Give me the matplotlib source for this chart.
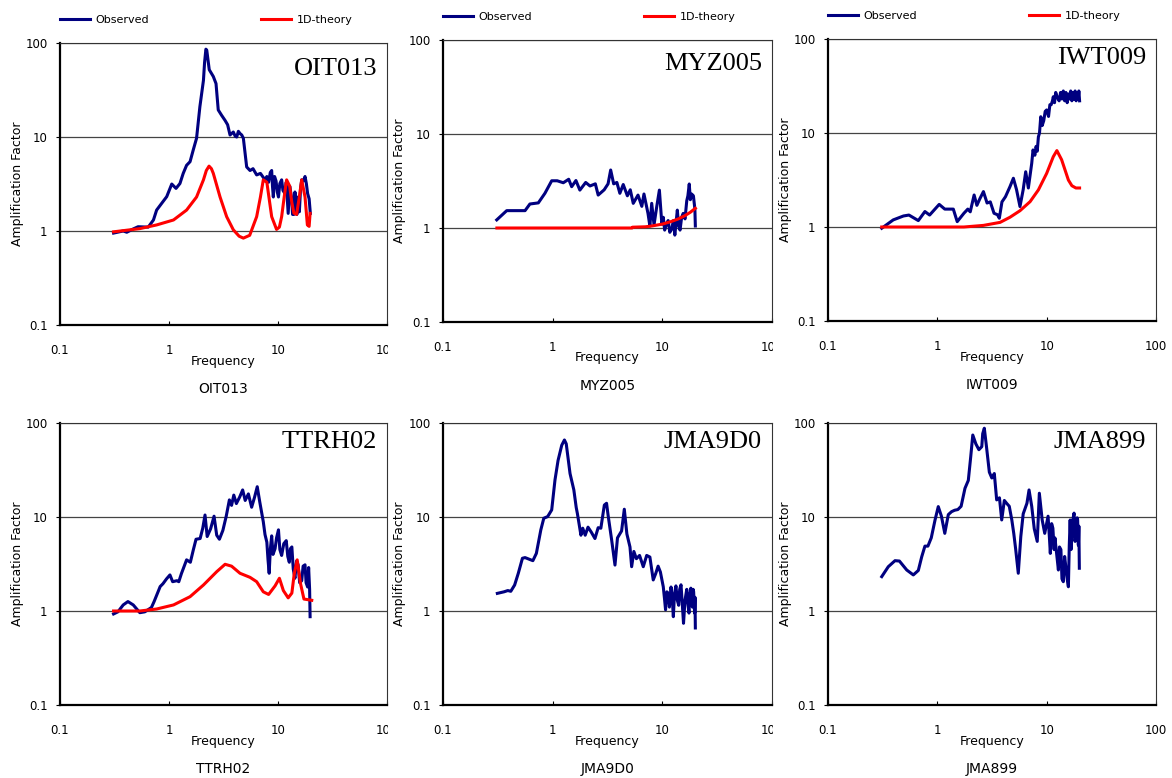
import matplotlib
matplotlib.use("Agg")
import matplotlib.pyplot as plt
from matplotlib.transforms import Bbox, TransformedBbox

plt.rcParams['font.family'] = ['DejaVu Sans']

W, H = 1172, 778

# (frequency [Hz], amplification) pairs per site
oit013_obs = [(0.31, 0.95), (0.38, 1.0), (0.41, 0.97), (0.46, 1.04), (0.52, 1.11), (0.645, 1.1),
              (0.72, 1.31), (0.77, 1.67), (0.857, 1.97), (0.953, 2.32), (1.06, 3.16), (1.16, 2.84),
              (1.26, 3.2), (1.35, 4.1), (1.45, 5.0), (1.56, 5.46), (1.67, 7.3), (1.79, 9.7),
              (1.92, 21), (2.07, 40), (2.12, 62), (2.18, 86), (2.22, 84), (2.34, 52), (2.55, 44),
              (2.70, 37), (2.83, 19.4), (3.04, 17), (3.27, 15), (3.45, 13.5), (3.63, 10.5),
              (3.89, 11.3), (4.05, 10.2), (4.18, 10.0), (4.33, 11.5), (4.48, 10.9), (4.65, 10.5),
              (4.81, 9.7), (5.16, 4.8), (5.54, 4.4), (5.9, 4.6), (6.37, 3.95), (6.9, 4.1),
              (7.6, 3.5), (7.9, 3.8), (8.2, 3.3), (8.5, 4.2), (8.75, 4.4), (8.9, 3.0), (9.06, 2.3),
              (9.3, 3.8), (9.6, 3.4), (9.85, 2.6), (10.1, 2.3), (10.4, 3.2), (10.8, 3.5),
              (11.1, 2.7), (11.6, 2.5), (11.9, 3.3), (12.4, 1.54), (12.8, 3.0), (13.3, 2.3),
              (13.6, 1.5), (14.0, 1.5), (14.3, 2.6), (14.6, 2.0), (14.9, 1.5), (15.3, 2.3),
              (15.7, 1.6), (16.1, 2.8), (16.5, 3.5), (17.1, 3.4), (17.7, 3.8), (18.2, 3.2),
              (18.7, 2.5), (19.3, 2.2), (19.8, 1.54)]
oit013_th = [(0.31, 0.98), (0.54, 1.06), (0.77, 1.16), (1.1, 1.31), (1.45, 1.67), (1.79, 2.3),
             (2.07, 3.5), (2.2, 4.4), (2.33, 4.9), (2.45, 4.6), (2.55, 4.1), (2.94, 2.3),
             (3.38, 1.42), (3.89, 1.03), (4.4, 0.88), (4.81, 0.84), (5.5, 0.9), (6.37, 1.42),
             (6.9, 2.3), (7.33, 3.5), (7.9, 3.3), (8.75, 1.42), (9.7, 1.04), (10.3, 1.1),
             (10.8, 1.42), (11.4, 2.3), (12.0, 3.5), (12.8, 3.0), (13.4, 2.0), (14.0, 1.55),
             (14.8, 1.5), (15.6, 2.2), (16.5, 3.5), (17.7, 2.3), (18.6, 1.16), (19.3, 1.12),
             (19.7, 1.54)]

myz005_obs = [(0.309, 1.22), (0.381, 1.53), (0.56, 1.53), (0.62, 1.8), (0.74, 1.85), (0.85, 2.34),
              (0.98, 3.18), (1.1, 3.18), (1.25, 3.03), (1.4, 3.3), (1.49, 2.75), (1.63, 3.2),
              (1.77, 2.53), (2.0, 3.05), (2.19, 2.8), (2.45, 2.95), (2.6, 2.24), (2.95, 2.55),
              (3.2, 2.95), (3.38, 4.14), (3.6, 2.95), (3.85, 3.05), (4.1, 2.34), (4.4, 2.9),
              (4.8, 2.2), (5.1, 2.55), (5.43, 1.83), (6.0, 2.24), (6.5, 1.7), (6.8, 2.3),
              (7.4, 1.43), (7.7, 1.05), (8.0, 1.83), (8.4, 1.08), (8.9, 1.7), (9.4, 2.53),
              (9.9, 1.1), (10.2, 1.3), (10.5, 0.95), (10.9, 1.1), (11.3, 1.2), (11.7, 0.9),
              (12.2, 0.98), (12.6, 1.2), (13.0, 0.84), (13.7, 1.55), (14.1, 1.05), (14.5, 0.95),
              (15.0, 1.3), (15.5, 1.43), (16.1, 1.25), (16.7, 1.95), (17.1, 2.2), (17.6, 2.94),
              (18.0, 2.0), (18.5, 2.3), (19.2, 2.2), (19.8, 1.6), (20.0, 1.05)]
myz005_th = [(0.31, 1.0), (5.3, 1.0), (5.35, 1.02), (7.0, 1.03), (8.0, 1.05), (10.0, 1.1),
             (12.0, 1.17), (14.0, 1.25), (16.0, 1.35), (18.0, 1.47), (20.0, 1.62)]

iwt009_obs = [(0.31, 0.97), (0.395, 1.19), (0.49, 1.31), (0.55, 1.34), (0.67, 1.17), (0.77, 1.46),
              (0.85, 1.34), (1.04, 1.74), (1.17, 1.55), (1.4, 1.55), (1.52, 1.14), (1.75, 1.4),
              (1.9, 1.55), (2.0, 1.45), (2.17, 2.19), (2.3, 1.7), (2.45, 2.0), (2.64, 2.38),
              (2.85, 1.8), (3.05, 1.85), (3.3, 1.4), (3.55, 1.35), (3.69, 1.24), (3.9, 1.85),
              (4.2, 2.1), (4.62, 2.69), (4.96, 3.3), (5.3, 2.5), (5.7, 1.65), (6.1, 2.5),
              (6.43, 3.87), (6.8, 2.6), (7.3, 4.76), (7.5, 6.6), (7.8, 5.8), (8.0, 7.2),
              (8.2, 6.4), (8.4, 9.1), (8.6, 10), (8.83, 14.9), (9.1, 12), (9.4, 13.5), (9.7, 17),
              (10.0, 17.6), (10.4, 15), (10.7, 20), (11.0, 20), (11.3, 22), (11.5, 24.3),
              (11.8, 21), (12.1, 27), (12.5, 24), (13.0, 22), (13.4, 27), (13.8, 23), (14.2, 28),
              (14.6, 22), (15.0, 27), (15.4, 21), (15.8, 26), (16.2, 23), (16.6, 28), (17.0, 22),
              (17.4, 27), (17.8, 23), (18.2, 28), (18.6, 22), (19.0, 27), (19.4, 23), (19.7, 28),
              (20.0, 22)]
iwt009_th = [(0.31, 1.0), (1.75, 1.0), (2.64, 1.04), (3.75, 1.12), (4.62, 1.27), (5.7, 1.49),
             (7.05, 1.86), (8.4, 2.48), (10.0, 3.72), (11.5, 5.6), (12.4, 6.5), (13.7, 5.2),
             (15.8, 3.16), (17.0, 2.75), (18.5, 2.6), (20.0, 2.6)]

ttrh02_obs = [(0.31, 0.93), (0.34, 0.98), (0.38, 1.16), (0.42, 1.26), (0.47, 1.16), (0.54, 0.96),
              (0.6, 0.98), (0.69, 1.09), (0.73, 1.26), (0.83, 1.82), (0.88, 1.95), (0.95, 2.2),
              (1.02, 2.42), (1.08, 2.05), (1.18, 2.1), (1.23, 2.05), (1.3, 2.5), (1.45, 3.5),
              (1.57, 3.3), (1.67, 4.45), (1.77, 5.8), (1.93, 5.9), (2.04, 7.6), (2.14, 10.5),
              (2.24, 6.2), (2.41, 7.5), (2.59, 10.2), (2.74, 6.4), (2.9, 5.8), (3.12, 7.2),
              (3.35, 10.2), (3.58, 15.2), (3.75, 13.3), (3.93, 17.1), (4.15, 13.9), (4.45, 16.3),
              (4.74, 19.4), (5.0, 15), (5.35, 17.6), (5.73, 12.7), (6.1, 16.3), (6.45, 21),
              (6.8, 14.5), (7.33, 8.9), (7.6, 6.5), (7.9, 5.4), (8.1, 3.5), (8.3, 2.52),
              (8.5, 4.5), (8.75, 6.3), (9.0, 4.0), (9.4, 4.6), (9.7, 6.0), (10.1, 7.3),
              (10.4, 4.5), (10.8, 3.9), (11.3, 5.2), (11.9, 5.6), (12.3, 3.8), (12.7, 3.3),
              (13.0, 4.6), (13.4, 4.8), (13.8, 2.8), (14.3, 2.23), (14.8, 3.4), (15.3, 3.1),
              (15.8, 2.0), (16.5, 2.1), (17.0, 3.0), (17.7, 3.1), (18.1, 2.0), (18.7, 1.8),
              (19.1, 2.9), (19.5, 1.7), (19.7, 0.87)]
ttrh02_th = [(0.31, 1.0), (0.54, 1.0), (0.77, 1.05), (1.1, 1.16), (1.56, 1.42), (2.07, 1.89),
             (2.74, 2.62), (3.27, 3.14), (3.75, 3.0), (4.48, 2.52), (5.54, 2.28), (6.37, 2.05),
             (7.33, 1.6), (8.2, 1.5), (9.4, 1.85), (10.3, 2.23), (11.2, 1.65), (12.4, 1.38),
             (13.4, 1.55), (14.1, 2.5), (15.0, 3.5), (16.1, 1.95), (17.3, 1.34), (20.4, 1.3)]

jma9d0_obs = [(0.313, 1.54), (0.36, 1.6), (0.39, 1.65), (0.415, 1.62), (0.45, 1.89), (0.486, 2.52),
              (0.53, 3.64), (0.56, 3.7), (0.66, 3.43), (0.71, 4.1), (0.78, 7.3), (0.83, 9.7),
              (0.9, 10.1), (0.98, 11.9), (1.05, 24.8), (1.12, 40), (1.21, 58), (1.28, 66),
              (1.33, 60), (1.44, 29), (1.56, 19.4), (1.64, 12.6), (1.68, 10.9), (1.81, 6.4),
              (1.88, 7.6), (1.98, 6.4), (2.1, 7.8), (2.25, 6.9), (2.43, 5.9), (2.6, 7.7),
              (2.75, 7.6), (2.96, 13.4), (3.1, 14), (3.2, 10.5), (3.45, 5.7), (3.7, 3.08),
              (3.9, 6.0), (4.25, 7.1), (4.5, 12.1), (4.75, 6.6), (5.07, 4.8), (5.25, 2.96),
              (5.5, 4.3), (5.8, 3.6), (6.2, 3.9), (6.7, 2.96), (7.2, 3.9), (7.7, 3.75),
              (8.26, 2.14), (8.7, 2.5), (9.15, 3.0), (9.6, 2.6), (10.2, 1.81), (10.5, 1.3),
              (10.7, 1.03), (11.0, 1.6), (11.3, 1.55), (11.6, 1.1), (12.0, 1.8), (12.3, 1.4),
              (12.6, 0.87), (12.9, 1.5), (13.3, 1.85), (13.7, 1.3), (14.1, 1.15), (14.4, 1.7),
              (14.8, 1.9), (15.2, 1.2), (15.6, 0.74), (16.1, 1.3), (16.7, 1.7), (17.1, 1.2),
              (17.5, 0.95), (17.8, 1.5), (18.2, 1.75), (18.5, 1.3), (18.8, 1.1), (19.1, 1.7),
              (19.3, 1.6), (19.5, 1.2), (19.7, 0.95), (19.85, 1.4), (20.0, 0.66)]

jma899_obs = [(0.31, 2.32), (0.356, 2.96), (0.41, 3.43), (0.45, 3.4), (0.525, 2.73), (0.603, 2.42),
              (0.67, 2.7), (0.72, 3.78), (0.77, 4.9), (0.82, 4.9), (0.88, 6.0), (0.953, 9.3),
              (1.02, 12.9), (1.09, 10.2), (1.17, 6.7), (1.26, 10.6), (1.35, 11.4), (1.44, 11.8),
              (1.54, 12), (1.65, 13), (1.79, 20.2), (1.92, 24.5), (2.02, 43.7), (2.11, 74.5),
              (2.25, 60), (2.4, 52), (2.55, 56), (2.6, 77), (2.69, 88), (2.82, 55), (2.99, 30),
              (3.15, 26), (3.32, 29), (3.49, 15.2), (3.7, 16), (3.88, 9.3), (4.1, 15), (4.3, 14),
              (4.55, 13), (4.8, 9.3), (5.0, 6.7), (5.2, 4.6), (5.5, 2.52), (5.8, 6.2), (6.1, 10.8),
              (6.6, 14), (6.9, 19.4), (7.3, 13), (7.7, 7.5), (8.2, 5.5), (8.57, 17.9), (9.1, 9.3),
              (9.6, 6.7), (10.3, 10.2), (10.6, 6.0), (10.8, 4.1), (11.1, 8.5), (11.4, 7.6),
              (11.7, 4.5), (11.9, 6.0), (12.3, 4.2), (12.8, 2.73), (13.1, 4.8), (13.5, 4.5),
              (13.8, 2.2), (14.2, 2.05), (14.6, 3.8), (15.0, 2.9), (15.4, 2.2), (15.8, 1.81),
              (16.1, 5.0), (16.4, 9.3), (16.7, 4.5), (17.0, 6.0), (17.4, 9.5), (17.8, 11),
              (18.2, 5.5), (18.7, 7.0), (19.0, 9.8), (19.2, 9.3), (19.5, 5.0), (19.7, 8.0),
              (19.9, 2.85)]

site_names = ["OIT013", "MYZ005", "IWT009", "TTRH02", "JMA9D0", "JMA899"]
observed = [oit013_obs, myz005_obs, iwt009_obs, ttrh02_obs, jma9d0_obs, jma899_obs]
theory = [oit013_th, myz005_th, iwt009_th, ttrh02_th, None, None]

decade_ticks = [0.1, 1, 10, 100]
decade_labels = ["0.1", "1", "10", "100"]

# axes boxes in pixels: left, top, right, bottom
boxes = [(60, 43, 387, 325), (443, 40, 772, 322), (828, 39, 1156, 321),
         (60, 423, 387, 705), (443, 423, 772, 705), (828, 423, 1156, 705)]
name_offset = [26, 24, 19, 19, 19, 19]

fig = plt.figure(figsize=(W / 100, H / 100), dpi=100)

for i, name in enumerate(site_names):
    l, t, r, b = boxes[i]
    w, h = r - l, b - t
    ax = fig.add_axes([l / W, 1 - b / H, w / W, h / H])
    ax.set_xscale("log")
    ax.set_yscale("log")

    f, a = zip(*observed[i])
    ax.plot(f, a, color="#000080", lw=2.2, label="Observed", zorder=3)
    if theory[i] is not None:
        f, a = zip(*theory[i])
        ax.plot(f, a, color="#ff0000", lw=2.2, label="1D-theory", zorder=4)

    ax.set_xlim(0.1, 100)
    ax.set_ylim(0.1, 100)
    ax.set_xticks(decade_ticks)
    ax.set_xticklabels(decade_labels)
    ax.set_yticks(decade_ticks)
    ax.set_yticklabels(decade_labels)
    ax.minorticks_off()
    ax.tick_params(axis="x", direction="in", length=3, pad=14, labelsize=8.5)
    ax.tick_params(axis="y", direction="out", length=3, pad=6, labelsize=8.5)
    ax.grid(axis="y", color="#444444", lw=0.9)
    ax.set_axisbelow(True)

    for side in ["left", "bottom"]:
        ax.spines[side].set_linewidth(1.6)
        ax.spines[side].set_color("black")
    for side in ["top", "right"]:
        ax.spines[side].set_linewidth(0.8)
        ax.spines[side].set_color("#333333")

    ax.set_xlabel("Frequency", fontsize=9)
    ax.xaxis.label.set_va("center")
    ax.xaxis.set_label_coords(0.5, -36 / h)
    ax.set_ylabel("Amplification Factor", fontsize=9)
    ax.yaxis.label.set_va("center")
    ax.yaxis.set_label_coords(-43 / w, 0.5)

    ax.text(1 - 10 / w, 1 - name_offset[i] / h, name, transform=ax.transAxes,
            ha="right", va="center", fontsize=19, family="Liberation Serif")
    ax.text(0.5, -64 / h, name, transform=ax.transAxes,
            ha="center", va="center", fontsize=10)

    if i < 3:
        ax.legend(loc="center left", bbox_to_anchor=(0, 1 + 23 / h), ncol=2,
                  frameon=False, fontsize=8, handlelength=2.7, handletextpad=0.5,
                  columnspacing=10.1, borderpad=0, borderaxespad=0)

    # the right-hand "100" runs into the neighbouring panel and gets cut
    if i % 3 != 2:
        clip = TransformedBbox(Bbox.from_extents(0, 0, (r + 1) / W, 1), fig.transFigure)
        for lab in ax.get_xticklabels():
            lab.set_clip_box(clip)
            lab.set_clip_on(True)

fig.savefig("out.png", dpi=100)
